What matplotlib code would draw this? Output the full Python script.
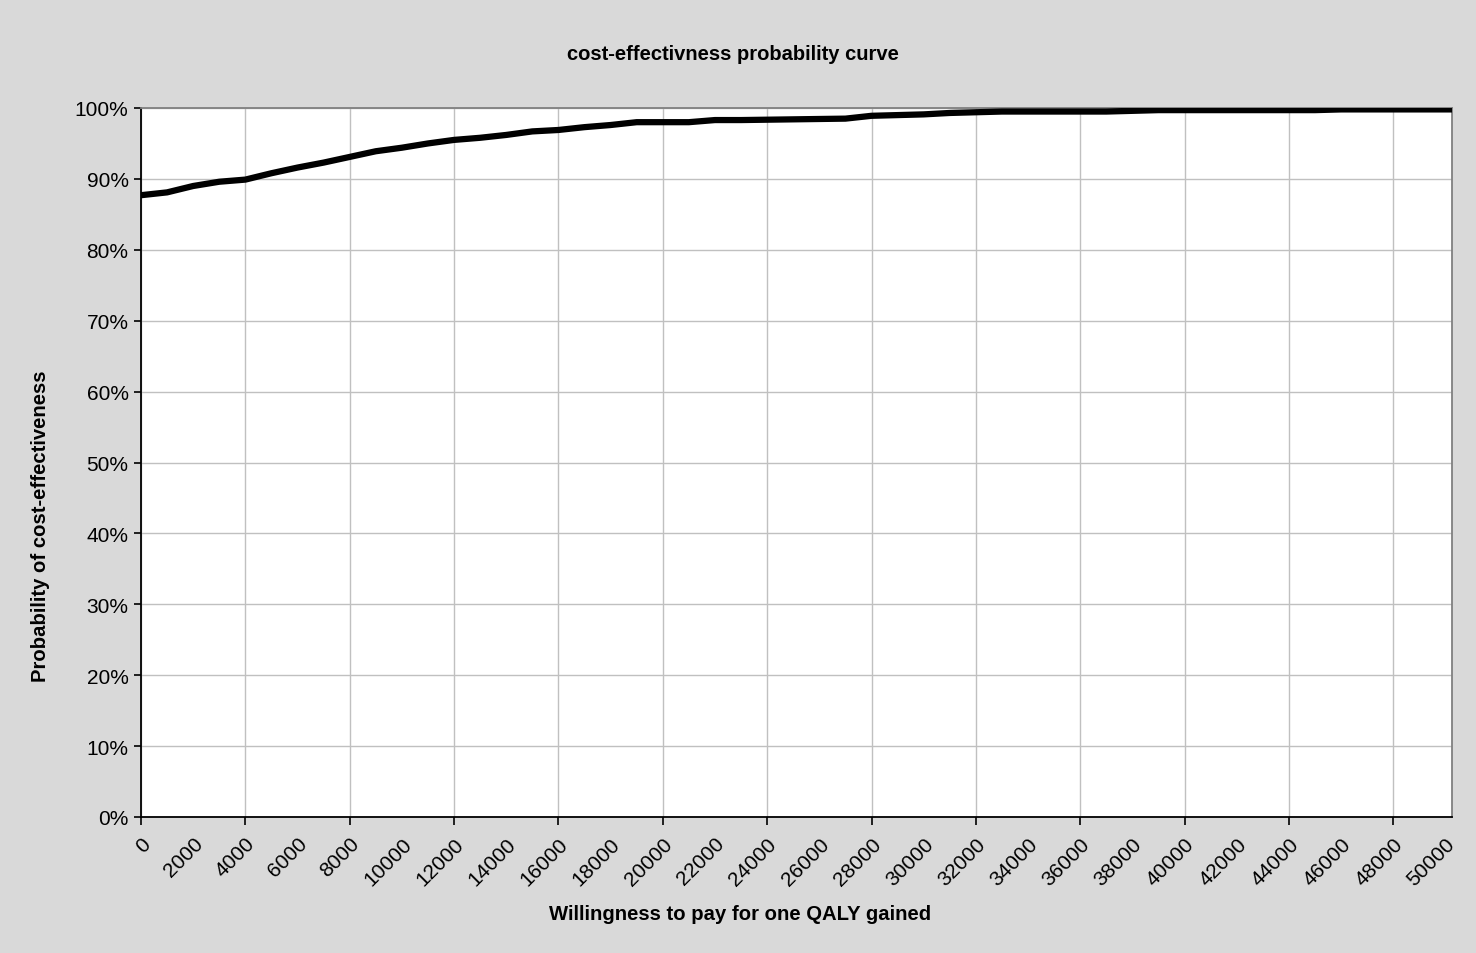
import matplotlib
matplotlib.use("Agg")
from matplotlib import pyplot as plt
from matplotlib.ticker import FuncFormatter

plt.rcParams['font.family'] = ['Liberation Sans', 'DejaVu Sans']

# willingness to pay (x) and probability of cost-effectiveness in % (y)
wtp = [0, 1000, 2000, 3000, 4000, 5000, 6000, 7000, 8000, 9000,
       10000, 11000, 12000, 13000, 14000, 15000, 16000, 17000, 18000, 19000,
       20000, 21000, 22000, 23000, 24000, 25000, 26000, 27000, 28000, 29000,
       30000, 31000, 32000, 33000, 34000, 35000, 36000, 37000, 38000, 39000,
       40000, 41000, 42000, 43000, 44000, 45000, 46000, 47000, 48000, 49000,
       50000, 50250]
prob = [87.7, 88.1, 89.0, 89.6, 89.9, 90.8, 91.6, 92.3, 93.1, 93.9,
        94.4, 95.0, 95.5, 95.8, 96.2, 96.7, 96.9, 97.3, 97.6, 98.0,
        98.0, 98.0, 98.3, 98.3, 98.35, 98.4, 98.45, 98.5, 98.9, 99.0,
        99.1, 99.3, 99.4, 99.5, 99.5, 99.5, 99.5, 99.5, 99.6, 99.7,
        99.7, 99.7, 99.7, 99.7, 99.7, 99.7, 99.8, 99.8, 99.8, 99.8,
        99.8, 99.8]

x_labels = list(range(0, 50001, 2000))
y_ticks = list(range(0, 101, 10))

bg = "#D9D9D9"
fig = plt.figure(figsize=(14.76, 9.54), dpi=100, facecolor=bg)
ax = fig.add_axes([141 / 1476, 1 - 818 / 954, (1452 - 141) / 1476, (818 - 109) / 954])
ax.set_facecolor("white")

ax.plot(wtp, prob, color="black", lw=4.5, solid_capstyle="round",
        solid_joinstyle="round", zorder=3)

ax.set_xlim(0, 50250)
ax.set_ylim(0, 100)

# gridlines + tick marks every 4000, labels every 2000
ax.set_xticks(x_labels[::2])
ax.set_xticks(x_labels[1::2], minor=True)
ax.set_xticklabels([str(v) for v in x_labels[::2]], rotation=45, ha="right",
                   va="top", rotation_mode="anchor", fontsize=15)
ax.set_xticklabels([str(v) for v in x_labels[1::2]], minor=True, rotation=45,
                   ha="right", va="top", rotation_mode="anchor", fontsize=15)
ax.tick_params(axis="x", which="major", length=6, width=1.2, pad=6)
ax.tick_params(axis="x", which="minor", length=0, pad=12)

ax.set_yticks(y_ticks)
ax.yaxis.set_major_formatter(FuncFormatter(lambda v, p: "%d%%" % v))
ax.tick_params(axis="y", length=5, width=1.2, labelsize=15, pad=4)

ax.grid(True, which="major", color="#C0C0C0", lw=1.0)
ax.set_axisbelow(True)

for s in ["left", "bottom"]:
    ax.spines[s].set_color("black")
    ax.spines[s].set_linewidth(1.3)
for s in ["top", "right"]:
    ax.spines[s].set_color("#808080")
    ax.spines[s].set_linewidth(1.3)

fig.text(733 / 1476, 1 - 55 / 954, "cost-effectivness probability curve",
         ha="center", va="center", fontsize=14.5, fontweight="bold")
fig.text(740 / 1476, 1 - 915 / 954, "Willingness to pay for one QALY gained",
         ha="center", va="center", fontsize=14.6, fontweight="bold")
fig.text(41 / 1476, 1 - 526 / 954, "Probability of cost-effectiveness",
         ha="center", va="center", rotation=90, fontsize=14.6, fontweight="bold")

fig.savefig("out.png", dpi=100, facecolor=bg)
